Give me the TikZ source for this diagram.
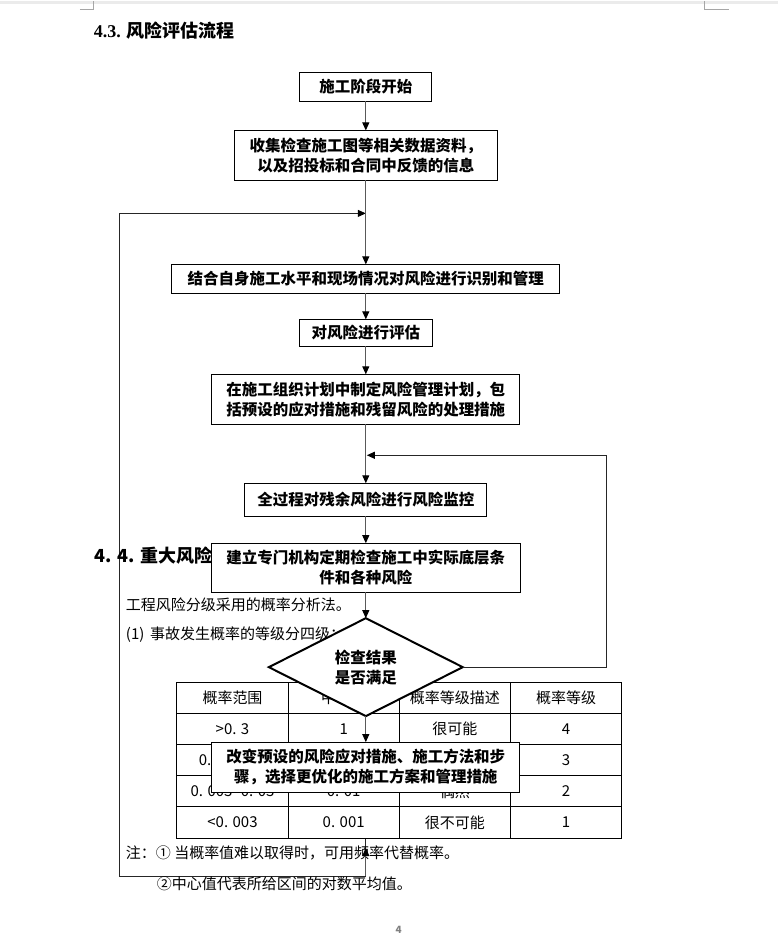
\documentclass[tikz,border=0pt]{standalone}
\usepackage{fontspec}
\setmainfont{Liberation Serif}
\newfontfamily\cjk{Noto Sans CJK SC}
\usetikzlibrary{arrows.meta,shapes.geometric}
\pgfdeclarelayer{bglayer}
\pgfdeclarelayer{midlayer}
\pgfsetlayers{bglayer,midlayer,main}
\begin{document}
\begin{tikzpicture}[x=1pt,y=-1pt,
  every node/.style={inner sep=0pt,outer sep=0pt},
  box/.style={draw=black,line width=1.1pt,fill=white,align=center,
    font={\cjk\bfseries\fontsize{15.5}{20}\selectfont}},
  dia/.style={shape=diamond,draw=black,line width=2pt,fill=white,aspect=2,align=center,
    minimum width=194pt,minimum height=98pt,
    font={\cjk\bfseries\fontsize{15.5}{20}\selectfont}},
  conn/.style={draw=black!65,line width=1pt},
  loopl/.style={draw=black!85,line width=1pt},
  arr/.style={-{Triangle[length=8pt,width=7pt,color=black]}},
  cell/.style={draw=black,line width=1pt,fill=white,minimum width=111.25pt,minimum height=31.2pt,
    font={\cjk\fontsize{15}{18}\selectfont}},
  txt/.style={anchor=west,font={\cjk\fontsize{15}{18}\selectfont}},
  head/.style={anchor=west,font={\bfseries\fontsize{18}{20}\selectfont}},
  cmark/.style={draw=black!35,line width=1pt}
]
\begin{pgfonlayer}{bglayer}
\useasboundingbox (0,0) rectangle (778,937);
\fill[white] (0,0) rectangle (778,937);
\fill[black!8] (0,0) rectangle (778,3);
\end{pgfonlayer}
% corner marks
\draw[cmark] (80,9) -- (94,9) -- (94,0);
\draw[cmark] (729,9) -- (705,9) -- (705,0);
% page number
\node[font={\cjk\bfseries\fontsize{10}{11}\selectfont},text=black!50] (pg) at (399,930) {4};

% document text
\node[head] (t43) at (94,30) {4.3. {\cjk 风险评估流程}};
\node[head,font={\cjk\bfseries\fontsize{18}{20}\selectfont}] (t44) at (95,555) {4. 4. 重大风险源分级};
\node[txt] (p1) at (126,605) {工程风险分级采用的概率分析法。};
\node[txt] (p2) at (126,634) {(1)\, 事故发生概率的等级分四级：};
\node[txt] (n1) at (126,853) {注：① 当概率值难以取得时，可用频率代替概率。};
\node[txt] (n2) at (157,884) {②中心值代表所给区间的对数平均值。};

% table (middle layer)
\begin{pgfonlayer}{midlayer}
\foreach \r/\a/\b/\d [count=\i from 0] in {
  概率范围/中心值/概率等级描述/概率等级,
  >0. 3/1/很可能/4,
  0. 03\textasciitilde0. 3/ / /3,
  0. 003\textasciitilde0. 03/0. 01/偶然/2,
  <0. 003/0. 001/很不可能/1}{
  \node[cell] (c\i a) at (232.625,697.6+31.2*\i) {\r};
  \node[cell] (c\i b) at (343.875,697.6+31.2*\i) {\a};
  \node[cell] (c\i c) at (455.125,697.6+31.2*\i) {\b};
  \node[cell] (c\i d) at (566.375,697.6+31.2*\i) {\d};
}
\end{pgfonlayer}

% flowchart
\node[box,minimum width=132pt,minimum height=29pt] (b1) at (366,86.5) {施工阶段开始};
\node[box,minimum width=263pt,minimum height=50pt] (b2) at (366,155) {收集检查施工图等相关数据资料，\\以及招投标和合同中反馈的信息};
\node[box,minimum width=388pt,minimum height=29pt] (b3) at (366,278.5) {结合自身施工水平和现场情况对风险进行识别和管理};
\node[box,minimum width=133pt,minimum height=27pt] (b4) at (366,332.5) {对风险进行评估};
\node[box,minimum width=308pt,minimum height=50pt] (b5) at (366,399) {在施工组织计划中制定风险管理计划，包\\括预设的应对措施和残留风险的处理措施};
\node[box,minimum width=242pt,minimum height=33pt] (b6) at (366,499.5) {全过程对残余风险进行风险监控};
\node[box,minimum width=309pt,minimum height=49pt] (b7) at (366,567.5) {建立专门机构定期检查施工中实际底层条\\件和各种风险};
\node[dia] (d1) at (366,667) {检查结果\\是否满足};
\node[box,minimum width=308pt,minimum height=50pt] (b8) at (366,767) {改变预设的风险应对措施、施工方法和步\\骤，选择更优化的施工方案和管理措施};

\coordinate (bb) at (366,876);
\coordinate (lb) at (120,876);
\coordinate (lt) at (120,213);
\coordinate (j1) at (366,213);
\coordinate (ua) at (366,848);
\coordinate (r1) at (607,455);
\coordinate (j2) at (367,455);

% bottom feedback loop (lies under the table)
\begin{pgfonlayer}{bglayer}
\draw[loopl,arr] (b8.south) -- (bb) -- (lb) -- (lt) -- (j1);
\end{pgfonlayer}

% connectors
\draw[conn,arr] (b1) -- (b2);
\draw[conn,arr] (b2) -- (b3);
\draw[conn,arr] (b3) -- (b4);
\draw[conn,arr] (b4) -- (b5);
\draw[conn,arr] (b5) -- (b6);
\draw[conn,arr] (b6) -- (b7);
\draw[conn,arr] (b7) -- (d1);
\draw[conn,arr] (d1) -- (b8);
\draw[loopl,arr] (d1.east) -| (r1) -- (j2);
\draw[conn,arr] (bb) -- (ua);
\end{tikzpicture}
\end{document}
